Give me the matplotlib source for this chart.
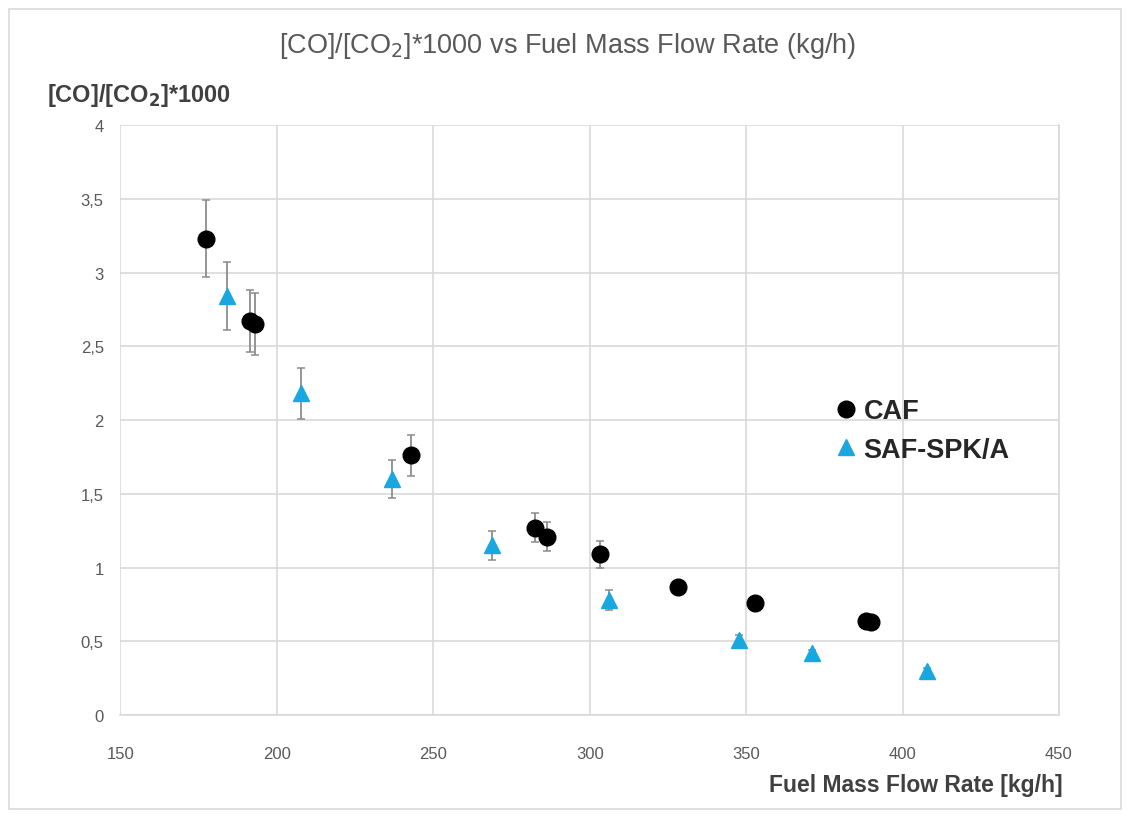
import matplotlib.pyplot as plt
import matplotlib.patches as mpatches
from matplotlib.ticker import FuncFormatter

# CAF data (fuel mass flow rate kg/h, [CO]/[CO2]*1000, error)
caf_x = [177.3, 191.5, 193.0, 242.8, 282.4, 286.3, 303.2, 328.1, 352.7, 388.3, 389.8]
caf_y = [3.23, 2.67, 2.65, 1.76, 1.27, 1.21, 1.09, 0.87, 0.76, 0.64, 0.63]
caf_err = [0.26, 0.21, 0.21, 0.14, 0.10, 0.10, 0.09, 0.04, 0.03, 0.02, 0.02]

# SAF-SPK/A data
saf_x = [184.0, 207.7, 236.7, 268.7, 306.1, 347.6, 370.9, 407.7]
saf_y = [2.84, 2.18, 1.60, 1.15, 0.78, 0.51, 0.42, 0.30]
saf_err = [0.23, 0.17, 0.13, 0.10, 0.07, 0.03, 0.02, 0.02]

x_ticks = [150, 200, 250, 300, 350, 400, 450]
y_ticks = [0, 0.5, 1, 1.5, 2, 2.5, 3, 3.5, 4]

plt.rcParams['font.family'] = ['Liberation Sans', 'DejaVu Sans']

fig = plt.figure(figsize=(11.28, 8.2), dpi=100)
ax = fig.add_axes([0.1068, 0.1268, 0.832, 0.7195])

# outer chart border
fig.patches.append(mpatches.Rectangle((0.008, 0.012), 0.986, 0.976, transform=fig.transFigure,
                                      fill=False, edgecolor='#D9D9D9', linewidth=1.2))

# error bars
ax.errorbar(caf_x, caf_y, yerr=caf_err, fmt='none', ecolor='#8C8C8C', elinewidth=1.3,
            capsize=3, capthick=1.1, zorder=2)
ax.errorbar(saf_x, saf_y, yerr=saf_err, fmt='none', ecolor='#8C8C8C', elinewidth=1.3,
            capsize=3, capthick=1.1, zorder=2)

# markers
ax.plot(caf_x, caf_y, 'o', color='black', markersize=12, linestyle='none', label='CAF', zorder=3)
ax.plot(saf_x, saf_y, '^', color='#1AA7DF', markersize=11, linestyle='none', label='SAF-SPK/A', zorder=3)

ax.set_xlim(150, 450)
ax.set_ylim(0, 4)
ax.set_xticks(x_ticks)
ax.set_yticks(y_ticks)
ax.yaxis.set_major_formatter(FuncFormatter(lambda v, p: f"{v:g}".replace('.', ',')))
ax.tick_params(length=0, labelsize=12, labelcolor='#595959')
ax.tick_params(axis='x', pad=22)
ax.tick_params(axis='y', pad=12)

ax.grid(True, color='#D9D9D9', linewidth=1.2)
ax.set_axisbelow(True)
for s in ax.spines.values():
    s.set_color('#D9D9D9')
    s.set_linewidth(1.2)
ax.spines['left'].set_visible(False)
ax.spines['top'].set_visible(False)

# title and axis labels
fig.text(0.503, 0.944, r'[CO]/[CO$_2$]*1000 vs Fuel Mass Flow Rate (kg/h)', ha='center', va='center',
         fontsize=19.5, color='#595959')
fig.text(0.042, 0.884, r'[CO]/[CO$_\mathbf{2}$]*1000', ha='left', va='center',
         fontsize=17, fontweight='bold', color='#404040')
fig.text(0.942, 0.042, 'Fuel Mass Flow Rate [kg/h]', ha='right', va='center',
         fontsize=16.5, fontweight='bold', color='#404040')

leg = ax.legend(loc='upper left', bbox_to_anchor=(0.731, 0.578), frameon=False,
                prop={'weight': 'bold', 'size': 19.5}, handletextpad=0.1,
                labelspacing=0.45, handlelength=1.1, labelcolor='#262626')

fig.savefig('out.png', dpi=100)
plt.close()
